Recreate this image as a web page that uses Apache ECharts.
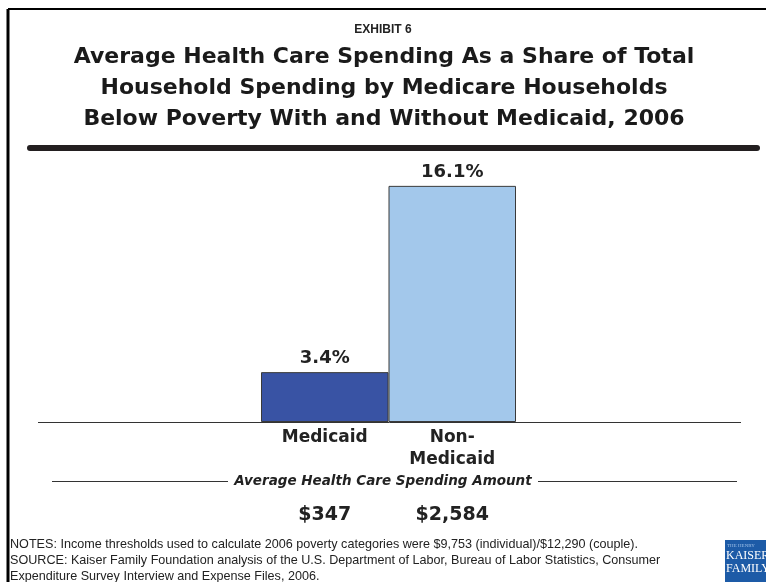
<!DOCTYPE html>
<html>
<head>
<meta charset="utf-8">
<script src="https://cdn.jsdelivr.net/npm/echarts@6/dist/echarts.min.js"></script>
<style>
html,body{margin:0;padding:0;background:#fff;}
#chart{width:766px;height:582px;}
</style>
</head>
<body>
<div id="chart"></div>
<script>
// ---- data ----
var categories = ['Medicaid', 'Non-\nMedicaid'];
var shareValues = [3.4, 16.1];
var spendingAmounts = ['$347', '$2,584'];
var barColors = ['#3953A4', '#A3C8EB'];
var exhibitLabel = 'EXHIBIT 6';
var titleLines = [
  'Average Health Care Spending As a Share of Total',
  'Household Spending by Medicare Households',
  'Below Poverty With and Without Medicaid, 2006'
];
var subCaption = 'Average Health Care Spending Amount';
var noteLines = [
  'NOTES: Income thresholds used to calculate 2006 poverty categories were $9,753 (individual)/$12,290 (couple).',
  'SOURCE: Kaiser Family Foundation analysis of the U.S. Department of Labor, Bureau of Labor Statistics, Consumer',
  'Expenditure Survey Interview and Expense Files, 2006.'
];

var chart = echarts.init(document.getElementById('chart'));
var sans = 'Liberation Sans, Arial, sans-serif';
var wide = 'DejaVu Sans, Verdana, sans-serif';

var titleGraphics = titleLines.map(function (t, i) {
  return {type: 'text', x: 384, y: 57 + i * 31, style: {text: t, align: 'center', verticalAlign: 'middle',
    font: 'bold 22px ' + wide, fill: '#1a1a1a'}};
});

var option = {
  backgroundColor: '#fff',
  animation: false,
  title: [
    {text: exhibitLabel, left: 'center', top: 19, textStyle: {fontFamily: sans, fontWeight: 'bold', fontSize: 12, color: '#222'}}
  ],
  grid: {left: 261, right: 250, top: 158, bottom: 160},
  xAxis: [
    {type: 'category', data: categories, axisLine: {show: false}, axisTick: {show: false},
     axisLabel: {fontFamily: wide, fontWeight: 'bold', fontSize: 17, color: '#222', lineHeight: 22, margin: 5}},
    {type: 'category', data: spendingAmounts, position: 'bottom', offset: 76, axisLine: {show: false}, axisTick: {show: false},
     axisLabel: {fontFamily: wide, fontWeight: 'bold', fontSize: 19, color: '#222'}}
  ],
  yAxis: {type: 'value', min: 0, max: 18, show: false},
  series: [{
    type: 'bar',
    data: shareValues.map(function (v, i) { return {value: v, itemStyle: {color: barColors[i]}}; }),
    barWidth: '100%',
    barCategoryGap: 0,
    itemStyle: {borderColor: '#3a3a3a', borderWidth: 1},
    label: {show: true, position: 'top', distance: 5, formatter: function (p) { return p.value.toFixed(1) + '%'; },
      fontFamily: wide, fontWeight: 'bold', fontSize: 18, color: '#222'}
  }],
  graphic: titleGraphics.concat([
    // frame
    {type: 'line', shape: {x1: 8, y1: 9, x2: 766, y2: 9}, style: {stroke: '#000', lineWidth: 2}},
    {type: 'line', shape: {x1: 8, y1: 9, x2: 8, y2: 582}, style: {stroke: '#000', lineWidth: 3}},
    // thick rule under title
    {type: 'line', shape: {x1: 30, y1: 148, x2: 757, y2: 148}, style: {stroke: '#231f20', lineWidth: 6, lineCap: 'round'}},
    // baseline
    {type: 'line', shape: {x1: 38, y1: 422.5, x2: 741, y2: 422.5}, style: {stroke: '#333', lineWidth: 1}, z: 10},
    // caption with rules
    {type: 'line', shape: {x1: 52, y1: 481.5, x2: 228, y2: 481.5}, style: {stroke: '#333', lineWidth: 1}},
    {type: 'line', shape: {x1: 538, y1: 481.5, x2: 737, y2: 481.5}, style: {stroke: '#333', lineWidth: 1}},
    {type: 'text', x: 383, y: 481, style: {text: subCaption, align: 'center', verticalAlign: 'middle',
      font: 'italic bold 13.5px ' + wide, fill: '#222'}},
    // notes
    {type: 'text', x: 10, y: 537, style: {text: noteLines.join('\n'), font: '12.6px ' + sans, lineHeight: 16, fill: '#222'}},
    // logo
    {type: 'rect', shape: {x: 725, y: 540, width: 45, height: 42}, style: {fill: '#1d5ba7'}},
    {type: 'text', x: 727, y: 543, style: {text: 'THE HENRY', font: '5px serif', fill: '#9fc0e8'}},
    {type: 'text', x: 726, y: 550, style: {text: 'KAISER', font: '12px Liberation Serif, serif', fill: '#fff'}},
    {type: 'text', x: 726, y: 563, style: {text: 'FAMILY', font: '12px Liberation Serif, serif', fill: '#fff'}}
  ])
};
chart.setOption(option);
</script>
</body>
</html>
